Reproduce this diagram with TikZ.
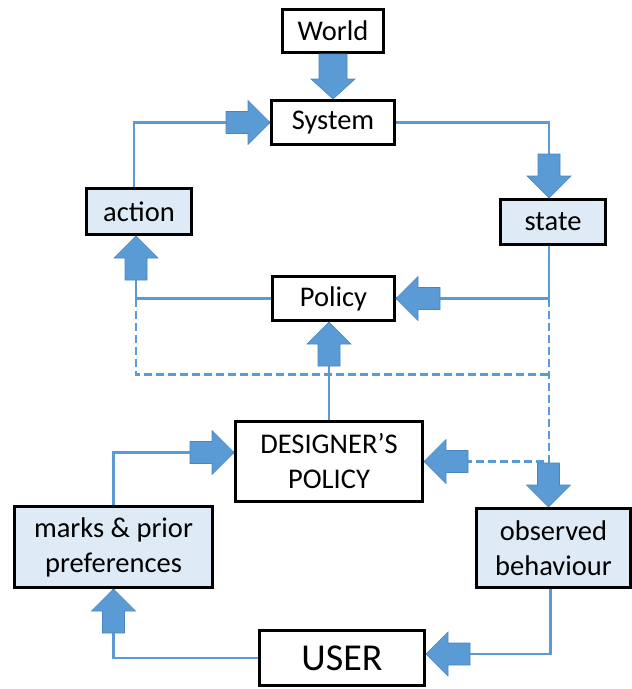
\documentclass[tikz,border=0pt]{standalone}
\usepackage{fontspec}
\setmainfont{Carlito}
\usetikzlibrary{calc}
\definecolor{lineblue}{HTML}{5B9BD5}
\definecolor{arrowedge}{HTML}{4A85BE}
\definecolor{boxfill}{HTML}{DEEBF7}
\tikzset{
  box/.style={draw=black, line width=2.8pt, fill=white, inner sep=0pt, align=center,
    font=\fontsize{28.5}{35}\selectfont},
  bluebox/.style={box, fill=boxfill},
  conn/.style={draw=lineblue, line width=2.7pt},
  dconn/.style={conn, dash pattern=on 8pt off 4pt},
  pics/barrow/.style={code={
    \filldraw[fill=lineblue, draw=arrowedge, line width=0.6pt]
      (0,0) -- (-22,-22) -- (-22,-11) -- (-44,-11) -- (-44,11) -- (-22,11) -- (-22,22) -- cycle;}},
  pics/barrowwide/.style={code={
    \filldraw[fill=lineblue, draw=arrowedge, line width=0.6pt]
      (0,0) -- (-20,-22) -- (-20,-14) -- (-45,-14) -- (-45,14) -- (-20,14) -- (-20,22) -- cycle;}},
}
\begin{document}
\begin{tikzpicture}[x=1pt,y=-1pt]
\useasboundingbox (0,0) rectangle (632,689);

% nodes
\node[box, minimum width=101.2pt, minimum height=43.2pt] (World) at (333,31) {World};
\node[box, minimum width=123.2pt, minimum height=44.2pt] (System) at (333,122.5) {System};
\node[bluebox, minimum width=105.2pt, minimum height=46.2pt] (action) at (139,211.5) {action};
\node[bluebox, minimum width=105.2pt, minimum height=45.2pt] (state) at (553,222) {state};
\node[box, minimum width=122.2pt, minimum height=44.2pt] (Policy) at (333.5,298.5) {Policy};
\node[box, minimum width=187.2pt, minimum height=80.2pt] (DESIGNER) at (329,461.5) {DESIGNER’S\\POLICY};
\node[bluebox, minimum width=198.2pt, minimum height=81.2pt] (marks) at (113.5,547) {marks \& prior\\preferences};
\node[bluebox, minimum width=154pt, minimum height=79.2pt] (observed) at (553.5,548) {observed\\behaviour};
\node[box, minimum width=165.2pt, minimum height=55.2pt, font=\fontsize{38}{42}\selectfont] (USER) at (342,658) {USER};

% helper coordinates
\coordinate (sb) at ([xshift=-4pt]state.south);
\coordinate (st) at ([xshift=-4pt]state.north);
\coordinate (ab) at ([xshift=-3pt]action.south);
\coordinate (at) at ([xshift=-5pt]action.north);
\coordinate (jr) at (sb |- Policy.east);
\coordinate (jl) at (ab |- Policy.west);
\coordinate (dl) at ($(jl)+(0,76)$);
\coordinate (dr) at (dl -| jr);
\coordinate (jd) at (jr |- DESIGNER.east);
\coordinate (ot) at ([xshift=-5pt]observed.north);
\coordinate (ob) at ([xshift=-3pt]observed.south);
\coordinate (ue) at ([yshift=4pt]USER.east);
\coordinate (dw) at ([yshift=9pt]DESIGNER.west);
\coordinate (ps) at (DESIGNER.north |- Policy.south);

% connectors
\draw[conn] (at) |- (System.west);
\draw[conn] (System.east) -| (st);
\draw[conn] (sb) -- (jr) -- (Policy.east);
\draw[conn] (Policy.west) -- (jl) -- (ab);
\draw[dconn] (jl) -- (dl) -- (dr);
\draw[dconn] (jr) -- (jd) -- (DESIGNER.east);
\draw[conn] (DESIGNER.north) -- (ps);
\draw[conn] (marks.north) |- (dw);
\draw[conn] (ob) |- (ue);
\draw[conn] (USER.west) -| (marks.south);

% block arrows
\pic[rotate=-90] at (System.north) {barrowwide};
\pic at (System.west) {barrow};
\pic[rotate=-90] at (st) {barrow};
\pic[rotate=180] at (Policy.east) {barrow};
\pic[rotate=90] at (ab) {barrow};
\pic[rotate=90] at (ps) {barrow};
\pic at (dw) {barrow};
\pic[rotate=180] at (DESIGNER.east) {barrow};
\pic[rotate=-90] at (ot) {barrow};
\pic[rotate=90] at (marks.south) {barrow};
\pic[rotate=180] at (ue) {barrow};
\end{tikzpicture}
\end{document}
